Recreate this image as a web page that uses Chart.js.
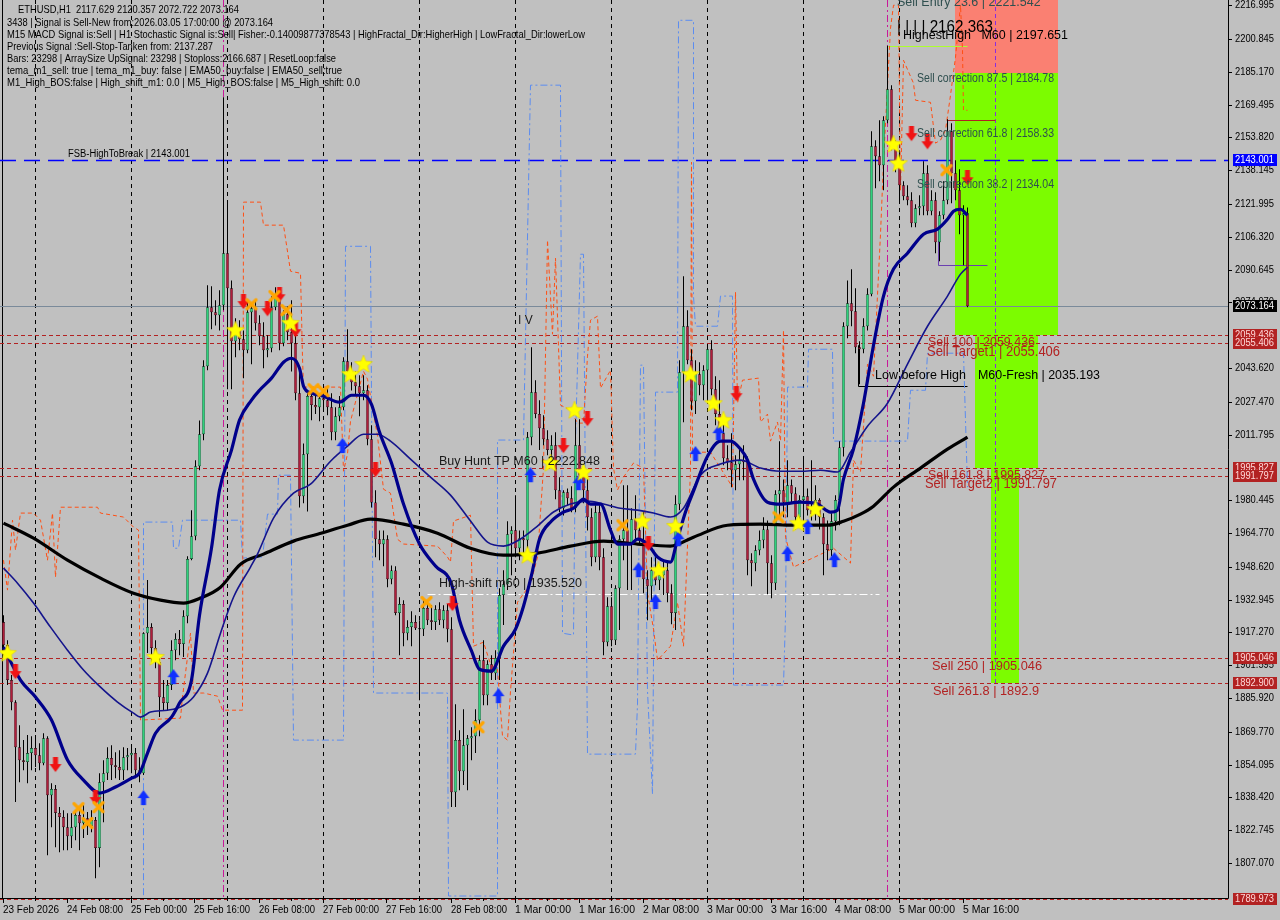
<!DOCTYPE html>
<html><head><meta charset="utf-8">
<script src="https://cdn.jsdelivr.net/npm/chart.js@4.4.1/dist/chart.umd.min.js"></script>
<style>html,body{margin:0;padding:0;background:#c0c0c0;overflow:hidden}canvas{display:block}</style>
</head><body>
<canvas id="c" width="1280" height="920" style="width:1280px;height:920px"></canvas>
<script>
// ---------- DATA (ETHUSD H1, bar 0 = 23 Feb 16:00, bar 241 = 5 Mar 17:00) ----------
const openP = [
1922.2,1911.2,1894.5,1883.9,1862.4,1856.2,1855.3,1859.6,1862.0,1858.6,
1854.8,1866.7,1839.5,1842.4,1831.0,1829.0,1824.2,1819.9,1824.2,1830.0,
1826.1,1828.5,1824.7,1827.6,1814.2,1845.7,1850.0,1857.2,1853.8,1852.9,
1851.4,1857.6,1858.6,1859.6,1851.4,1850.0,1916.9,1919.8,1909.8,1903.1,
1886.3,1883.5,1892.1,1908.8,1914.1,1911.7,1925.0,1952.3,1963.2,1996.7,
2012.0,2044.5,2072.7,2070.3,2068.8,2073.6,2098.5,2081.7,2056.4,2062.1,
2057.4,2052.1,2070.3,2072.2,2065.0,2058.8,2052.1,2053.1,2072.7,2078.4,
2055.5,2069.3,2060.7,2055.5,2031.6,1982.3,2002.4,2030.2,2025.9,2024.9,
2029.2,2028.2,2024.9,2012.9,2020.6,2024.9,2046.9,2042.1,2036.8,2034.9,
2031.6,2033.0,2009.6,1979.4,1961.8,1959.4,1961.8,1942.7,1946.9,1926.5,
1930.8,1916.9,1919.8,1922.2,1919.3,1918.8,1928.9,1923.1,1922.2,1928.4,
1923.1,1927.9,1918.8,1840.9,1865.8,1850.9,1863.4,1866.7,1867.7,1875.3,
1904.0,1887.3,1902.1,1897.8,1905.0,1935.1,1940.3,1964.2,1966.1,1957.5,
1962.3,1961.3,2010.5,2032.0,2021.6,2014.9,2009.6,2004.4,2006.7,1985.2,
1976.6,1984.2,1981.4,1976.6,2006.7,1992.3,1985.2,1972.3,1953.2,1974.7,
1953.2,1912.6,1929.8,1913.5,1938.4,1961.8,1966.1,1958.9,1971.3,1966.1,
1961.3,1942.7,1939.3,1947.0,1942.2,1944.6,1947.0,1936.0,1926.5,1978.5,
2041.6,2063.6,2047.3,2027.7,2040.6,2035.4,2042.5,2052.6,2033.5,2021.6,
2012.4,2000.5,1998.6,1994.8,1997.6,1999.6,1998.6,1951.8,1950.3,1956.5,
1961.3,1966.5,1950.3,1940.8,1983.3,1985.2,1979.4,1987.6,1983.7,1972.3,
1980.5,1982.3,1975.6,1973.7,1980.5,1972.3,1959.4,1956.6,1970.4,1980.5,
2005.7,2063.6,2074.6,2070.7,2053.5,2052.6,2063.6,2078.9,2149.6,2144.8,
2140.5,2162.0,2176.9,2149.6,2141.9,2131.0,2125.7,2123.8,2112.8,2120.0,
2120.9,2136.7,2118.5,2123.8,2103.7,2116.6,2123.8,2156.8,2136.7,2128.6,
2116.6,2117.629];
const highP = [
1925.5,1913.5,1896.9,1884.9,1872.9,1865.8,1868.2,1867.7,1868.2,1864.3,
1869.1,1867.7,1845.2,1844.3,1833.8,1832.3,1830.9,1830.9,1832.3,1832.3,
1834.7,1831.4,1832.3,1829.0,1850.0,1856.2,1862.4,1863.4,1860.0,1861.0,
1862.4,1862.0,1863.4,1862.0,1857.6,1917.4,1942.3,1921.7,1913.5,1905.0,
1894.5,1894.5,1913.5,1916.9,1918.4,1927.9,1953.7,1975.7,1999.6,2018.6,
2047.3,2083.2,2082.7,2076.0,2080.8,2173.0,2123.8,2085.5,2067.4,2066.4,
2061.6,2076.0,2074.6,2076.0,2068.8,2065.5,2059.3,2077.9,2082.2,2080.8,
2071.2,2073.1,2076.0,2059.3,2043.5,2007.6,2031.6,2033.0,2031.6,2030.2,
2033.0,2034.0,2031.6,2024.9,2030.2,2048.8,2062.1,2046.4,2042.1,2040.2,
2040.2,2035.4,2016.3,1985.2,1966.0,1966.0,1963.7,1949.3,1948.9,1934.1,
1932.7,1923.1,1927.4,1925.5,1923.1,1932.7,1932.7,1930.3,1930.3,1931.7,
1930.3,1930.8,1924.5,1883.0,1870.5,1880.6,1868.2,1872.0,1880.6,1906.4,
1913.5,1904.0,1906.4,1908.8,1938.4,1947.0,1970.4,1968.0,1982.8,1966.0,
1966.0,2013.0,2053.6,2037.8,2028.2,2021.1,2013.9,2011.5,2012.9,1991.4,
1985.2,1986.1,1987.1,2019.1,2019.1,1995.7,1991.4,1976.6,1978.0,1978.0,
1957.5,1934.1,1934.1,1939.8,1963.7,1987.6,1987.6,1976.6,1982.8,1970.8,
1974.7,1947.0,1953.2,1953.2,1949.3,1951.8,1951.8,1940.3,1982.8,2047.3,
2087.5,2071.2,2052.6,2047.3,2046.4,2044.9,2054.5,2056.9,2039.7,2037.8,
2018.7,2006.7,2012.4,2001.9,2004.4,2006.7,2001.4,1955.1,1958.9,1966.0,
1972.3,1970.8,1954.1,1985.2,2008.6,1990.4,1999.6,1990.4,1986.6,1982.8,
2001.4,1986.1,1999.6,1987.6,1981.4,1974.2,1970.8,1974.2,1982.8,2008.6,
2065.5,2085.5,2090.8,2081.7,2056.4,2067.4,2081.7,2156.8,2152.5,2162.0,
2164.0,2197.651,2178.8,2152.5,2147.7,2132.9,2131.0,2127.6,2121.9,2126.2,
2142.4,2140.5,2128.6,2127.6,2118.5,2132.9,2162.5,2160.6,2142.9,2138.6,
2121.4,2120.357];
const lowP = [
1906.4,1892.1,1880.1,1836.2,1845.7,1851.4,1845.2,1851.4,1852.9,1851.4,
1853.8,1810.8,1824.2,1814.6,1812.2,1813.2,1813.2,1814.2,1818.0,1813.2,
1819.0,1820.4,1821.8,1799.8,1805.1,1826.6,1846.7,1846.7,1847.6,1846.7,
1846.7,1851.4,1850.0,1847.6,1845.7,1849.1,1907.4,1902.6,1900.2,1876.8,
1880.1,1880.1,1889.7,1904.0,1906.4,1905.5,1921.7,1951.8,1961.3,1994.8,
2009.1,2042.5,2062.1,2064.0,2061.6,2071.2,2033.5,2033.5,2048.8,2052.1,
2038.7,2050.7,2045.4,2061.6,2054.5,2043.5,2048.8,2051.2,2071.2,2052.1,
2054.0,2056.9,2042.0,2028.2,1977.0,1979.0,1975.1,2018.7,2021.6,2018.2,
2023.5,2021.1,2009.1,2009.1,2018.2,2023.5,2038.2,2032.9,2030.2,2020.6,
2028.2,2006.7,1977.0,1953.2,1951.8,1948.9,1938.9,1940.3,1925.5,1906.4,
1910.7,1913.5,1910.7,1918.4,1884.9,1915.5,1920.8,1918.4,1918.4,1920.8,
1919.3,1912.6,1833.8,1833.8,1841.9,1844.3,1841.9,1856.2,1859.6,1867.7,
1882.5,1882.5,1894.5,1894.5,1894.5,1920.8,1937.5,1944.6,1953.2,1951.8,
1955.1,1955.1,2006.7,2019.6,2004.4,2006.7,2001.9,1999.6,1980.9,1974.7,
1973.2,1978.0,1974.7,1974.7,1991.4,1979.0,1966.0,1948.9,1950.8,1947.0,
1906.4,1910.7,1910.7,1911.2,1918.4,1951.8,1937.5,1937.5,1961.3,1958.9,
1936.0,1923.1,1932.7,1939.8,1937.5,1935.1,1931.7,1921.2,1918.4,1975.7,
2017.7,2045.4,2023.5,2021.6,2030.6,2028.2,2027.2,2030.6,2016.3,2008.6,
1997.1,1994.8,1986.6,1985.2,1990.0,1990.0,1944.6,1939.3,1946.5,1954.1,
1957.5,1935.5,1933.6,1937.5,1972.3,1972.3,1972.3,1979.4,1966.5,1968.5,
1970.4,1973.2,1970.8,1970.8,1966.5,1944.6,1951.8,1953.7,1966.0,1968.5,
2001.4,2057.8,2063.6,2050.7,2035.9,2050.7,2061.6,2077.9,2129.5,2132.9,
2128.6,2160.6,2147.7,2137.2,2123.8,2123.8,2121.4,2110.9,2110.9,2116.6,
2116.6,2116.6,2116.6,2098.5,2094.6,2114.7,2121.9,2122.4,2123.8,2107.6,
2092.7,2072.722];
const closeP = [
1911.2,1894.5,1883.9,1862.4,1856.2,1855.3,1859.6,1862.0,1858.6,1854.8,
1866.7,1839.5,1842.4,1831.0,1829.0,1824.2,1819.9,1824.2,1830.0,1826.1,
1828.5,1824.7,1827.6,1814.2,1845.7,1850.0,1857.2,1853.8,1852.9,1851.4,
1857.6,1858.6,1859.6,1851.4,1850.0,1916.9,1919.8,1909.8,1903.1,1886.3,
1883.5,1892.1,1908.8,1914.1,1911.7,1925.0,1952.3,1963.2,1996.7,2012.0,
2044.5,2072.7,2070.3,2068.8,2073.6,2098.5,2081.7,2056.4,2062.1,2057.4,
2052.1,2070.3,2072.2,2065.0,2058.8,2052.1,2053.1,2072.7,2078.4,2055.5,
2069.3,2060.7,2055.5,2031.6,1982.3,2002.4,2030.2,2025.9,2024.9,2029.2,
2028.2,2024.9,2012.9,2020.6,2024.9,2046.9,2042.1,2036.8,2034.9,2031.6,
2033.0,2009.6,1979.4,1961.8,1959.4,1961.8,1942.7,1946.9,1926.5,1930.8,
1916.9,1919.8,1922.2,1919.3,1918.8,1928.9,1923.1,1922.2,1928.4,1923.1,
1927.9,1918.8,1840.9,1865.8,1850.9,1863.4,1866.7,1867.7,1875.3,1904.0,
1887.3,1902.1,1897.8,1905.0,1935.1,1940.3,1964.2,1966.1,1957.5,1962.3,
1961.3,2010.5,2032.0,2021.6,2014.9,2009.6,2004.4,2006.7,1985.2,1976.6,
1984.2,1981.4,1976.6,2006.7,1992.3,1985.2,1972.3,1953.2,1974.7,1953.2,
1912.6,1929.8,1913.5,1938.4,1961.8,1966.1,1958.9,1971.3,1966.1,1961.3,
1942.7,1939.3,1947.0,1942.2,1944.6,1947.0,1936.0,1926.5,1978.5,2041.6,
2063.6,2047.3,2027.7,2040.6,2035.4,2042.5,2052.6,2033.5,2021.6,2012.4,
2000.5,1998.6,1994.8,1997.6,1999.6,1998.6,1951.8,1950.3,1956.5,1961.3,
1966.5,1950.3,1940.8,1983.3,1985.2,1979.4,1987.6,1983.7,1972.3,1980.5,
1982.3,1975.6,1973.7,1980.5,1972.3,1959.4,1956.6,1970.4,1980.5,2005.7,
2063.6,2074.6,2070.7,2053.5,2052.6,2063.6,2078.9,2149.6,2144.8,2140.5,
2162.0,2176.9,2149.6,2141.9,2131.0,2125.7,2123.8,2112.8,2120.0,2120.9,
2136.7,2118.5,2123.8,2103.7,2116.6,2123.8,2156.8,2136.7,2128.6,2116.6,
2117.629,2073.164];

// moving averages, read at sample bars
const fastMaIdx = [0,4.25,8,12,16,20,24,28,32,34,36,38,42,44,47,49,52,54,57,59,62,64,67,70,72,74,75,77,80,84,87,90,92,94,97,100,104,108,112,114,117,119,122,125,128,130,132,134,137,140,142.5,145,146.75,149.25,151.75,153.5,156.75,158.5,161,163.5,166.75,168.5,170.5,172.5,176,179.25,181.75,184.25,186,187.5,191,194.25,199.25,203.5,206.75,208.5,210,212.5,215,217.5,220,222.5,226,230,233.5,236,237.5,239.25,241];
const fastMaVal = [1910.2,1894.5,1886.4,1875.4,1856.3,1846.7,1840.5,1843.4,1847.6,1850.0,1859.6,1869.1,1876.8,1883.5,1894.5,1925.5,1957.6,1985.3,2004.4,2018.7,2028.3,2033.0,2038.8,2046.4,2048.3,2043.5,2035.0,2031.6,2030.2,2027.3,2030.6,2030.6,2026.3,2013.0,1998.2,1978.6,1959.5,1949.0,1940.4,1923.1,1908.4,1899.7,1898.8,1910.7,1918.8,1929.8,1944.6,1961.9,1970.5,1974.8,1976.6,1981.0,1978.6,1978.6,1966.2,1959.5,1959.5,1961.9,1959.5,1953.3,1950.9,1961.9,1974.8,1984.8,2001.5,2008.7,2008.7,2004.9,1999.6,1990.5,1979.5,1978.6,1979.5,1978.6,1974.8,1975.7,1990.5,2004.9,2026.8,2054.5,2078.0,2090.9,2098.5,2107.6,2110.0,2114.7,2118.6,2119.5,2116.6];
const slowMaIdx = [0,3.5,7.5,11.75,16,20,24.25,28.5,32.5,34.25,36.75,41,44.25,47.5,51,54.25,57.5,61.75,63.5,67.5,72.5,76.75,81.75,86,90,93.5,96.75,101.75,106.75,111.75,116.75,121,125,129.25,133.5,137.5,141.75,146,150,154.25,158.5,162.5,166.75,170,174.25,179.25,184.25,189.25,194.25,199.25,204.25,208.5,211.75,216,221,226,231,236,239.25,241];
const slowMaVal = [1948.0,1940.8,1931.3,1919.8,1908.8,1899.3,1891.1,1884.0,1878.7,1876.8,1879.2,1880.1,1881.6,1886.4,1897.8,1916.9,1934.1,1948.5,1954.7,1971.9,1983.8,1988.1,1999.1,2006.3,2012.0,2012.0,2008.7,2000.1,1991.5,1982.9,1970.5,1960.4,1958.5,1961.9,1968.1,1974.8,1978.6,1980.0,1978.6,1976.6,1975.7,1974.3,1972.4,1976.6,1992.4,1997.7,1999.6,1995.8,1994.3,1994.3,1994.8,1993.9,2003.4,2015.8,2026.8,2045.5,2063.6,2078.0,2088.5,2091.8];
const ema200Idx = [0,7.5,16,24.25,32.5,39.25,45,49.25,54.25,59.25,65,72.5,78.5,86,91.75,100,108.5,116.75,125,133.5,141.75,150,158.5,166.75,172.5,181,189.25,197.5,206,210,214.25,217.5,222.5,229.25,236,241];
const ema200Val = [1969.5,1962.3,1951.8,1943.2,1936.0,1932.7,1931.3,1933.7,1938.9,1949.9,1954.7,1960.9,1964.2,1968.5,1971.4,1969.0,1964.7,1957.5,1954.2,1955.2,1958.5,1960.9,1959.5,1958.5,1962.8,1968.5,1969.0,1968.5,1968.5,1970.4,1973.8,1977.6,1986.7,1995.8,2004.9,2010.6];

// fractal band lines (stepped)
const fracHighIdx = [0,1,2.25,3,4.25,7.5,9.25,11,12.25,13,14.25,23.5,24.25,30,32.5,33.75,34.25,44.25,44.75,46.75,47.5,50,53.5,54.75,59.75,60,64.25,65,70,71.75,74.25,74.75,75,84.25,85,86,86.75,90,91,93.5,95,96.75,98.5,100,108.5,111,111.75,112.5,116.75,117.5,120,121.75,123.5,124.75,126,126.75,128.5,131.75,133.5,135,136,137.25,138,139.25,141.75,143.5,145,146,146.75,148.5,149.25,151.75,152.5,153.5,155,157.5,160,161,162.5,163.5,166.75,168.5,170,171.75,172,172.25,176.75,181,182.25,183,183.5,184.75,188.75,189.25,191,191.75,193.5,194.25,195,195.5,197.5,207.5,211.75,212.5,214.25,216,217.5,219.25,220,221.75,222.5,223.75,224.25,225,227.5,228,231.75,233,234.25,235.5,236.75,238,239.25,239.75,240,241];
const fracHighVal = [1951.8,1937.5,1970.9,1956.6,1974.3,1974.3,1970.9,1951.8,1974.3,1943.7,1977.1,1977.1,1974.3,1972.4,1967.6,1966.2,1875.4,1876.3,1886.4,1916.9,1888.3,1888.3,1886.8,1880.1,1880.1,2122.9,2122.9,2111.9,2111.9,2089.9,2088.9,2048.8,2034.5,2034.5,1994.3,2002.5,2018.2,2042.1,2038.3,2011.1,1985.7,1983.8,1961.8,1959.5,1958.5,1953.3,1950.9,1970.5,1973.3,1910.7,1912.6,1902.1,1899.7,1867.7,1865.8,1889.2,1931.7,1940.4,1953.3,1995.8,2104.7,2059.8,2096.1,2025.9,2023.5,2017.3,2017.3,2049.3,2066.5,2068.4,2034.0,2042.6,1995.8,1985.3,1991.5,1998.2,1995.8,1936.0,1918.8,1904.0,1910.7,1931.7,1910.7,1994.8,2142.0,2003.4,2003.4,1990.5,1986.7,2079.9,2026.8,2037.8,2038.8,2017.8,2021.6,2008.7,2017.8,2008.7,2061.7,1962.8,1948.5,1957.5,1950.4,1999.6,1993.9,2045.5,2039.7,2107.6,2142.0,2206.0,2217.0,2217.0,2128.6,2190.7,2179.7,2171.6,2170.6,2151.1,2152.5,2157.3,2174.0,2192.1,2217.0,2195.5,2166.8,2166.8];
const fracLowIdx = [35,35,42.25,42.5,43.75,44.75,59.25,59.75,64.75,66,68.5,68.75,71.75,72.5,85,85.5,91.75,92.5,111,111.25,123.5,123.5,130,131.75,139.25,139.75,142.5,143,144.25,145,146,158,158.5,159.25,160,161,162.25,163,168.5,168.75,172.5,172.5,173,178.5,179.25,182.25,182.5,195,195.5,196,201,201.25,207.25,207.5,226,226.75,230.5,231,240,241];
const fracLowVal = [1791.7,1970.0,1970.0,1957.5,1957.5,1970.9,1970.9,1952.8,1953.3,1973.8,1973.8,1992.4,1992.4,1865.8,1865.8,2101.8,2101.8,1888.3,1888.3,1791.3,1791.3,2009.2,2009.2,2178.8,2178.8,1916.9,1916.0,2008.7,2098.0,2098.0,1859.1,1859.1,1883.0,2045.0,2045.0,1889.2,1840.0,2032.1,2032.1,2209.8,2209.8,2078.0,2063.6,2063.6,2078.0,2078.0,1892.1,1892.1,1924.6,2034.5,2034.5,2052.6,2052.6,2008.7,2008.7,2033.0,2033.0,2050.7,2050.7,1986.7];

// signal markers
const starIdx = [1,38,58,71.75,86.75,90,131,136.75,142.75,145,159.75,163.75,168,171.75,177.5,180,198.75,203,222.5,223.75];
const starVal = [1907.4,1905.5,2061.7,2065.1,2040.7,2045.5,1954.2,1998.2,2023.5,1993.9,1970.4,1947.0,1968.1,2040.7,2026.8,2018.7,1969.5,1976.2,2150.6,2141.5];
const crossIdx = [18.75,21,23.75,62,67.75,70.75,77.5,80,105.75,118.75,154.75,193.75,235.75];
const crossVal = [1833.3,1826.2,1833.8,2074.1,2078.0,2071.3,2033.5,2032.6,1931.8,1872.0,1968.5,1972.3,2138.2];
const sellArrowIdx = [3,13,23,60,66,69,73,93,112.25,140,146,161.25,183.25,227,231,241];
const sellArrowVal = [1898.3,1853.9,1838.1,2075.1,2071.7,2078.4,2061.7,1994.8,1930.8,2006.3,2019.2,1959.5,2031.1,2155.4,2151.5,2134.3];
const buyArrowIdx = [35,42.5,84.75,123.75,131.75,143.75,158.75,163,168.75,173,178.75,196,201,207.75];
const buyArrowVal = [1838.1,1895.9,2006.3,1886.8,1992.4,1988.6,1947.0,1931.8,1961.8,2002.5,2012.5,1954.7,1967.6,1951.8];

// levels
const redLevels = [2059.436,2055.406,1995.827,1991.797,1905.046,1892.900,1789.973];
const fsbLevel = 2143.001;
const bidPrice = 2073.164;
const highShiftLevel = 1935.520;
const daySeparatorBars = [8,32,56,80,104,128,152,176,200,224];
const yTickValues = [2216.995,2200.845,2185.170,2169.495,2153.820,2138.145,2121.995,2106.320,2090.645,2074.970,2043.620,2027.470,2011.795,1980.445,1964.770,1948.620,1932.945,1917.270,1901.595,1885.920,1869.770,1854.095,1838.420,1822.745,1807.070];
const xTickBars = [0,16,32,48,64,80,96,112,128,144,160,176,192,208,224,240];
const xTickLabels = ['23 Feb 2026','24 Feb 08:00','25 Feb 00:00','25 Feb 16:00','26 Feb 08:00','27 Feb 00:00','27 Feb 16:00','28 Feb 08:00','1 Mar 00:00','1 Mar 16:00','2 Mar 08:00','3 Mar 00:00','3 Mar 16:00','4 Mar 08:00','5 Mar 00:00','5 Mar 16:00'];
const sellEntry = 2221.542, corr875 = 2184.78, sell100 = 2059.436, sell1618 = 1995.827, sell2618 = 1892.9;
const highestHigh = 2197.651, boxHigh = 2162.363, lowBeforeHigh = 2035.193;

// ---------- rendering ----------
const FONT = "'Liberation Sans', Arial, sans-serif";
function mk(w,h,fn){const c=document.createElement('canvas');c.width=w;c.height=h;fn(c.getContext('2d'));return c;}
const starImg = mk(20,20,g=>{g.beginPath();for(let k=0;k<10;k++){const a=-Math.PI/2+k*Math.PI/5;const r=k%2?4.2:9.5;g.lineTo(10+r*Math.cos(a),10.5+r*Math.sin(a));}g.closePath();g.fillStyle='#ffff00';g.fill();g.strokeStyle='#e0d000';g.lineWidth=0.6;g.stroke();});
const crossImg = mk(14,14,g=>{g.strokeStyle='#ffa500';g.lineWidth=3.2;g.lineCap='round';g.beginPath();g.moveTo(2.5,2.5);g.lineTo(11.5,11.5);g.moveTo(11.5,2.5);g.lineTo(2.5,11.5);g.stroke();});
function arrow(g,color,down){g.fillStyle=color;g.beginPath();const P=[[4.5,0],[9.5,0],[9.5,7],[13,7],[7,15],[1,7],[4.5,7]];P.forEach(([x,y],k)=>{const yy=down?y:15-y;k?g.lineTo(x,yy):g.moveTo(x,yy);});g.closePath();g.fill();}
const sellImg = mk(14,16,g=>arrow(g,'#f01414',true));
const buyImg = mk(14,16,g=>arrow(g,'#1030ff',false));

const pts = (ix,v)=>ix.map((x,k)=>({x:x,y:v[k]}));
const bull='#2fd27c', bear='#b01e3c';

const mt4 = {
  id:'mt4',
  beforeDraw(chart){const c=chart.ctx;c.save();c.fillStyle='#c0c0c0';c.fillRect(0,0,chart.width,chart.height);c.restore();},
  beforeDatasetsDraw(chart){
    const c=chart.ctx, xs=chart.scales.x, ys=chart.scales.y, A=chart.chartArea;
    const X=v=>xs.getPixelForValue(v), Y=v=>ys.getPixelForValue(v);
    c.save();
    const rect=(x0,x1,p0,p1,col)=>{c.fillStyle=col;c.fillRect(Math.round(X(x0)),Math.round(Y(p0)),Math.round(X(x1))-Math.round(X(x0)),Math.round(Y(p1))-Math.round(Y(p0)));};
    rect(237.875,263.625,sellEntry,corr875,'#fa8072');
    rect(237.875,263.625,corr875,sell100,'#7cfc00');
    rect(242.875,258.625,sell100,sell1618,'#7cfc00');
    rect(246.875,253.875,sell1618,sell2618,'#7cfc00');
    c.lineWidth=1;c.strokeStyle='#000';c.setLineDash([4,4]);
    daySeparatorBars.forEach(b=>{const x=Math.round(X(b))-0.5;c.beginPath();c.moveTo(x,A.top);c.lineTo(x,A.bottom);c.stroke();});
    c.strokeStyle='#c8189a';c.setLineDash([7,3,2,3]);
    [55,221].forEach(b=>{const x=Math.round(X(b))-0.5;c.beginPath();c.moveTo(x,A.top);c.lineTo(x,A.bottom);c.stroke();});
    c.strokeStyle='#8a2be2';c.setLineDash([4,3]);
    {const x=Math.round(X(248))-0.5;c.beginPath();c.moveTo(x,A.top);c.lineTo(x,Y(sell2618));c.stroke();}
    c.setLineDash([]);c.strokeStyle='#000';c.beginPath();c.moveTo(2.5,A.top);c.lineTo(2.5,A.bottom);c.stroke();
    c.strokeStyle='#b22222';c.setLineDash([4,3]);
    redLevels.forEach(p=>{const y=Math.round(Y(p))+0.5;c.beginPath();c.moveTo(A.left,y);c.lineTo(A.right,y);c.stroke();});
    c.strokeStyle='#0000ff';c.setLineDash([16,8]);c.lineWidth=1.3;
    {const y=Math.round(Y(fsbLevel))+0.5;c.beginPath();c.moveTo(A.left,y);c.lineTo(A.right,y);c.stroke();}
    c.lineWidth=1;c.setLineDash([]);c.strokeStyle='#7a8a9a';
    {const y=Math.round(Y(bidPrice))+0.5;c.beginPath();c.moveTo(A.left,y);c.lineTo(A.right,y);c.stroke();}
    c.strokeStyle='#ffffff';c.setLineDash([8,3,2,3]);
    {const y=Math.round(Y(highShiftLevel))+0.5;c.beginPath();c.moveTo(X(106),y);c.lineTo(X(219),y);c.stroke();}
    c.setLineDash([]);
    c.strokeStyle='#adff2f';{const y=Math.round(Y(highestHigh))+0.5;c.beginPath();c.moveTo(X(221),y);c.lineTo(X(241),y);c.stroke();}
    c.strokeStyle='#b22222';{const y=Math.round(Y(boxHigh))+0.5;c.beginPath();c.moveTo(X(236),y);c.lineTo(X(248),y);c.stroke();}
    c.strokeStyle='#6a3fb0';{const y=Math.round(Y(2092.8))+0.5, x=Math.round(X(234))-0.5;c.beginPath();c.moveTo(x,Y(2110));c.lineTo(x,y);c.lineTo(X(246),y);c.stroke();}
    c.strokeStyle='#000';{const y=Math.round(Y(lowBeforeHigh))+0.5, x=Math.round(X(213.75))-0.5;c.beginPath();c.moveTo(x,Y(2054.5));c.lineTo(x,y);c.lineTo(X(241),y);c.stroke();}
    c.restore();
  },
  afterDatasetsDraw(chart){
    const c=chart.ctx, xs=chart.scales.x, ys=chart.scales.y, A=chart.chartArea;
    const X=v=>xs.getPixelForValue(v), Y=v=>ys.getPixelForValue(v);
    c.save();
    c.textBaseline='middle';c.textAlign='left';
    const T=(s,x,y,size,col,w)=>{c.font=size+'px '+FONT;c.fillStyle=col;if(w)c.fillText(s,x,y,w);else c.fillText(s,x,y);};
    T('FSB-HighToBreak | 2143.001',68,154,10,'#000',122);
    T('Buy Hunt TP M60 | 2222.848',439,462,12.5,'#1a1a1a',163);
    T('High-shift m60 | 1935.520',439,584,12.5,'#1a1a1a',144);
    T('I V',518,321,12,'#1a1a1a');
    T('Sell Entry 23.6 | 2221.542',897,3,12.5,'#2f4f4f',146);
    T('| | | | 2162.363',897,27,17,'#000',96);
    T('HighestHigh   M60 | 2197.651',903,35,13.5,'#000',165);
    T('Sell correction 87.5 | 2184.78',917,79,12,'#2f4f4f',137);
    T('Sell correction 61.8 | 2158.33',917,134,12,'#2f4f4f',137);
    T('Sell correction 38.2 | 2134.04',917,185,12,'#2f4f4f',137);
    T('Sell 100 | 2059.436',928,342,13,'#b22222',107);
    T('Sell Target1 | 2055.406',927,352,14,'#b22222',133);
    T('Low before High',875,375,13,'#000',91);
    T('M60-Fresh | 2035.193',978,375,13,'#000',122);
    T('Sell 161.8 | 1995.827',928,475,13,'#b22222',117);
    T('Sell Target2 | 1991.797',925,484,14,'#b22222',132);
    T('Sell 250 | 1905.046',932,666,13,'#b22222',110);
    T('Sell 261.8 | 1892.9',933,691,13,'#b22222',106);
    const info=[['ETHUSD,H1  2117.629 2120.357 2072.722 2073.164',18,10,221],
      ['3438 | Signal is Sell-New from:2026.03.05 17:00:00 @ 2073.164',7,23,266],
      ['M15 MACD Signal is:Sell | H1 Stochastic Signal is:Sell| Fisher:-0.14009877378543 | HighFractal_Dir:HigherHigh | LowFractal_Dir:lowerLow',7,35,578],
      ['Previous Signal :Sell-Stop-Tanken from: 2137.287',7,47,206],
      ['Bars: 23298 | ArraySize UpSignal: 23298 | Stoploss:2166.687 | ResetLoop:false',7,59,329],
      ['tema_m1_sell: true | tema_m1_buy: false | EMA50_buy:false | EMA50_sell:true',7,71,335],
      ['M1_High_BOS:false | High_shift_m1: 0.0 | M5_High_BOS:false | M5_High_shift: 0.0',7,83,353]];
    info.forEach(r=>T(r[0],r[1],r[2],10.5,'#000',r[3]));
    c.strokeStyle='#000';c.lineWidth=1;
    c.beginPath();c.moveTo(A.right+0.5,0);c.lineTo(A.right+0.5,A.bottom+0.5);c.lineTo(0,A.bottom+0.5);c.stroke();
    yTickValues.forEach(v=>{const y=Math.round(Y(v))+0.5;c.beginPath();c.moveTo(A.right,y);c.lineTo(A.right+4,y);c.stroke();T(v.toFixed(3),A.right+7,y,10.5,'#000',39);});
    for(let b=0;b<=240;b+=8){const x=Math.round(X(b))-0.5;c.beginPath();c.moveTo(x,A.bottom);c.lineTo(x,A.bottom+(b%16===0?5:3));c.stroke();}
    xTickBars.forEach((b,k)=>T(xTickLabels[k],Math.round(X(b))-1,A.bottom+12,10.5,'#000',56));
    const lab=(v,bg,fg)=>{const y=Math.round(Y(v));c.fillStyle=bg;c.fillRect(A.right+5,y-6,44,12);T(v.toFixed(3),A.right+7,y+0.5,10.5,fg,39);};
    lab(fsbLevel,'#0000ff','#ffffff');
    lab(bidPrice,'#000000','#ffffff');
    redLevels.forEach(v=>lab(v,'#b22222','#ffd8d8'));
    c.restore();
  }
};

new Chart(document.getElementById('c'),{
  type:'bar',
  data:{datasets:[
    {type:'scatter',data:pts(starIdx,starVal),pointStyle:starImg,pointRadius:9,order:0},
    {type:'scatter',data:pts(crossIdx,crossVal),pointStyle:crossImg,pointRadius:7,order:0},
    {type:'scatter',data:pts(sellArrowIdx,sellArrowVal),pointStyle:sellImg,pointRadius:7,order:0},
    {type:'scatter',data:pts(buyArrowIdx,buyArrowVal),pointStyle:buyImg,pointRadius:7,order:0},
    {type:'line',data:pts(fastMaIdx,fastMaVal),borderColor:'#00008b',borderWidth:3.2,pointRadius:0,cubicInterpolationMode:'monotone',order:1},
    {type:'line',data:pts(slowMaIdx,slowMaVal),borderColor:'#14148c',borderWidth:1.6,pointRadius:0,cubicInterpolationMode:'monotone',order:2},
    {type:'line',data:pts(ema200Idx,ema200Val),borderColor:'#000000',borderWidth:3.2,pointRadius:0,cubicInterpolationMode:'monotone',order:3},
    {type:'bar',data:openP.map((o,i)=>({x:i,y:[o,closeP[i]]})),backgroundColor:openP.map((o,i)=>closeP[i]>=o?bull:bear),borderColor:'#000',borderWidth:0.5,borderSkipped:false,barThickness:3,minBarLength:1,grouped:false,inflateAmount:0,order:4},
    {type:'bar',data:highP.map((h,i)=>({x:i,y:[lowP[i],h]})),backgroundColor:'#000',borderWidth:0,barThickness:1,grouped:false,inflateAmount:0,order:5},
    {type:'line',data:pts(fracHighIdx,fracHighVal),borderColor:'#ff4f14',borderWidth:1,borderDash:[4,3],pointRadius:0,tension:0,order:6},
    {type:'line',data:pts(fracLowIdx,fracLowVal),borderColor:'#5b8cf0',borderWidth:1,borderDash:[7,3,2,3],pointRadius:0,tension:0,order:7}
  ]},
  options:{
    responsive:false,animation:false,devicePixelRatio:1,events:[],
    layout:{autoPadding:false,padding:{left:0,top:0,right:52,bottom:22}},
    plugins:{legend:{display:false},tooltip:{enabled:false}},
    scales:{
      x:{type:'linear',min:-0.875,max:306.125,offset:false,display:false},
      y:{type:'linear',min:1790.35,max:2219.5,display:false}
    }
  },
  plugins:[mt4]
});
</script>
</body></html>
